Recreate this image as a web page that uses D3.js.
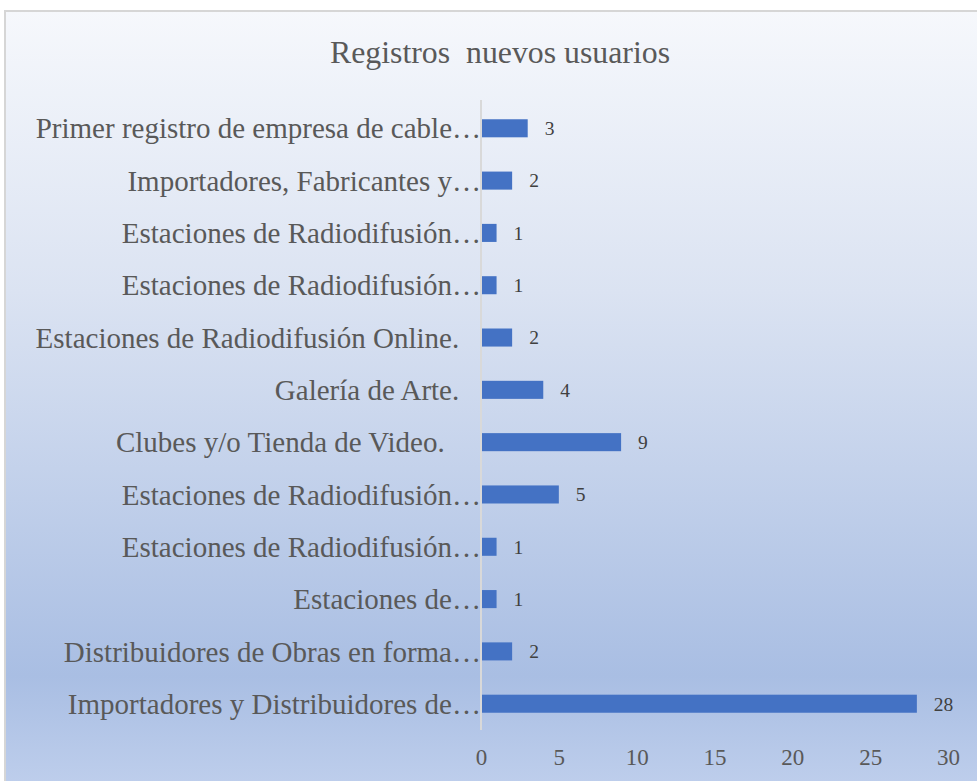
<!DOCTYPE html>
<html><head><meta charset="utf-8">
<script src="https://cdn.jsdelivr.net/npm/d3@7"></script>
<style>html,body{margin:0;padding:0;background:#fff;}svg{display:block;}</style>
</head><body>
<svg id="chart" width="977" height="781"></svg>
<script>
const categories = [
  "Primer registro de empresa de cable…",
  "Importadores, Fabricantes y…",
  "Estaciones de Radiodifusión…",
  "Estaciones de Radiodifusión…",
  "Estaciones de Radiodifusión Online.\u00a0\u00a0\u00a0",
  "Galería de Arte.\u00a0\u00a0\u00a0",
  "Clubes y/o Tienda de Video.\u00a0\u00a0\u00a0\u00a0\u00a0",
  "Estaciones de Radiodifusión…",
  "Estaciones de Radiodifusión…",
  "Estaciones de…",
  "Distribuidores de Obras en forma…",
  "Importadores y Distribuidores de…"
];
const values = [3, 2, 1, 1, 2, 4, 9, 5, 1, 1, 2, 28];
const xTicks = [0, 5, 10, 15, 20, 25, 30];
const title = "Registros  nuevos usuarios";

const svg = d3.select("#chart");
const W = 977, H = 781;
const defs = svg.append("defs");
const grad = defs.append("linearGradient").attr("id","bg").attr("x1",0).attr("y1",0).attr("x2",0).attr("y2",1);
[[0,"#f6f8fc"],[0.35,"#dbe3f2"],[0.83,"#a9bee3"],[1,"#c3d2ee"]].forEach(([o,c]) =>
  grad.append("stop").attr("offset",o).attr("stop-color",c));

svg.append("rect").attr("x",5).attr("y",11).attr("width",W+20).attr("height",H+20)
  .attr("fill","url(#bg)").attr("stroke","#d6d6d6").attr("stroke-width",2);

const font = "'Liberation Serif', 'Times New Roman', serif";

svg.append("text").attr("x",500).attr("y",52).attr("dy","0.35em")
  .attr("text-anchor","middle").attr("font-family",font)
  .attr("font-size",31.8).attr("fill","#595959").style("white-space","pre").text(title);

const x = d3.scaleLinear().domain([0,30]).range([481, 948]);
const y = d3.scaleBand().domain(d3.range(categories.length)).range([102, 730])
  .paddingInner(0.655).paddingOuter(0.33);

// axis line
svg.append("line").attr("x1",x(0)).attr("x2",x(0)).attr("y1",100).attr("y2",730)
  .attr("stroke","#d9d9d9").attr("stroke-width",2);

// bars
svg.selectAll("rect.bar").data(values).enter().append("rect").attr("class","bar")
  .attr("x",x(0)+1).attr("y",(d,i)=>y(i)).attr("width",d=>x(d)-x(0)-1).attr("height",y.bandwidth())
  .attr("fill","#4472c4");

// value labels
svg.selectAll("text.val").data(values).enter().append("text").attr("class","val")
  .attr("x",d=>x(d)+17).attr("y",(d,i)=>y(i)+y.bandwidth()/2).attr("dy","0.35em")
  .attr("font-family",font).attr("font-size",19.5).attr("fill","#404040").text(d=>d);

// category labels
svg.selectAll("text.cat").data(categories).enter().append("text").attr("class","cat")
  .attr("x",x(0)).attr("y",(d,i)=>y(i)+y.bandwidth()/2).attr("dy","0.35em")
  .attr("text-anchor","end").attr("font-family",font).attr("font-size",29)
  .attr("fill","#595959").style("white-space","pre").text(d=>d);

// x axis
const ax = svg.append("g").attr("transform","translate(0,757)")
  .call(d3.axisBottom(x).tickValues(xTicks).tickSize(0).tickPadding(0));
ax.select(".domain").remove();
ax.selectAll("text").attr("font-family",font).attr("font-size",23).attr("fill","#595959").attr("dy","0.35em");
</script>
</body></html>
